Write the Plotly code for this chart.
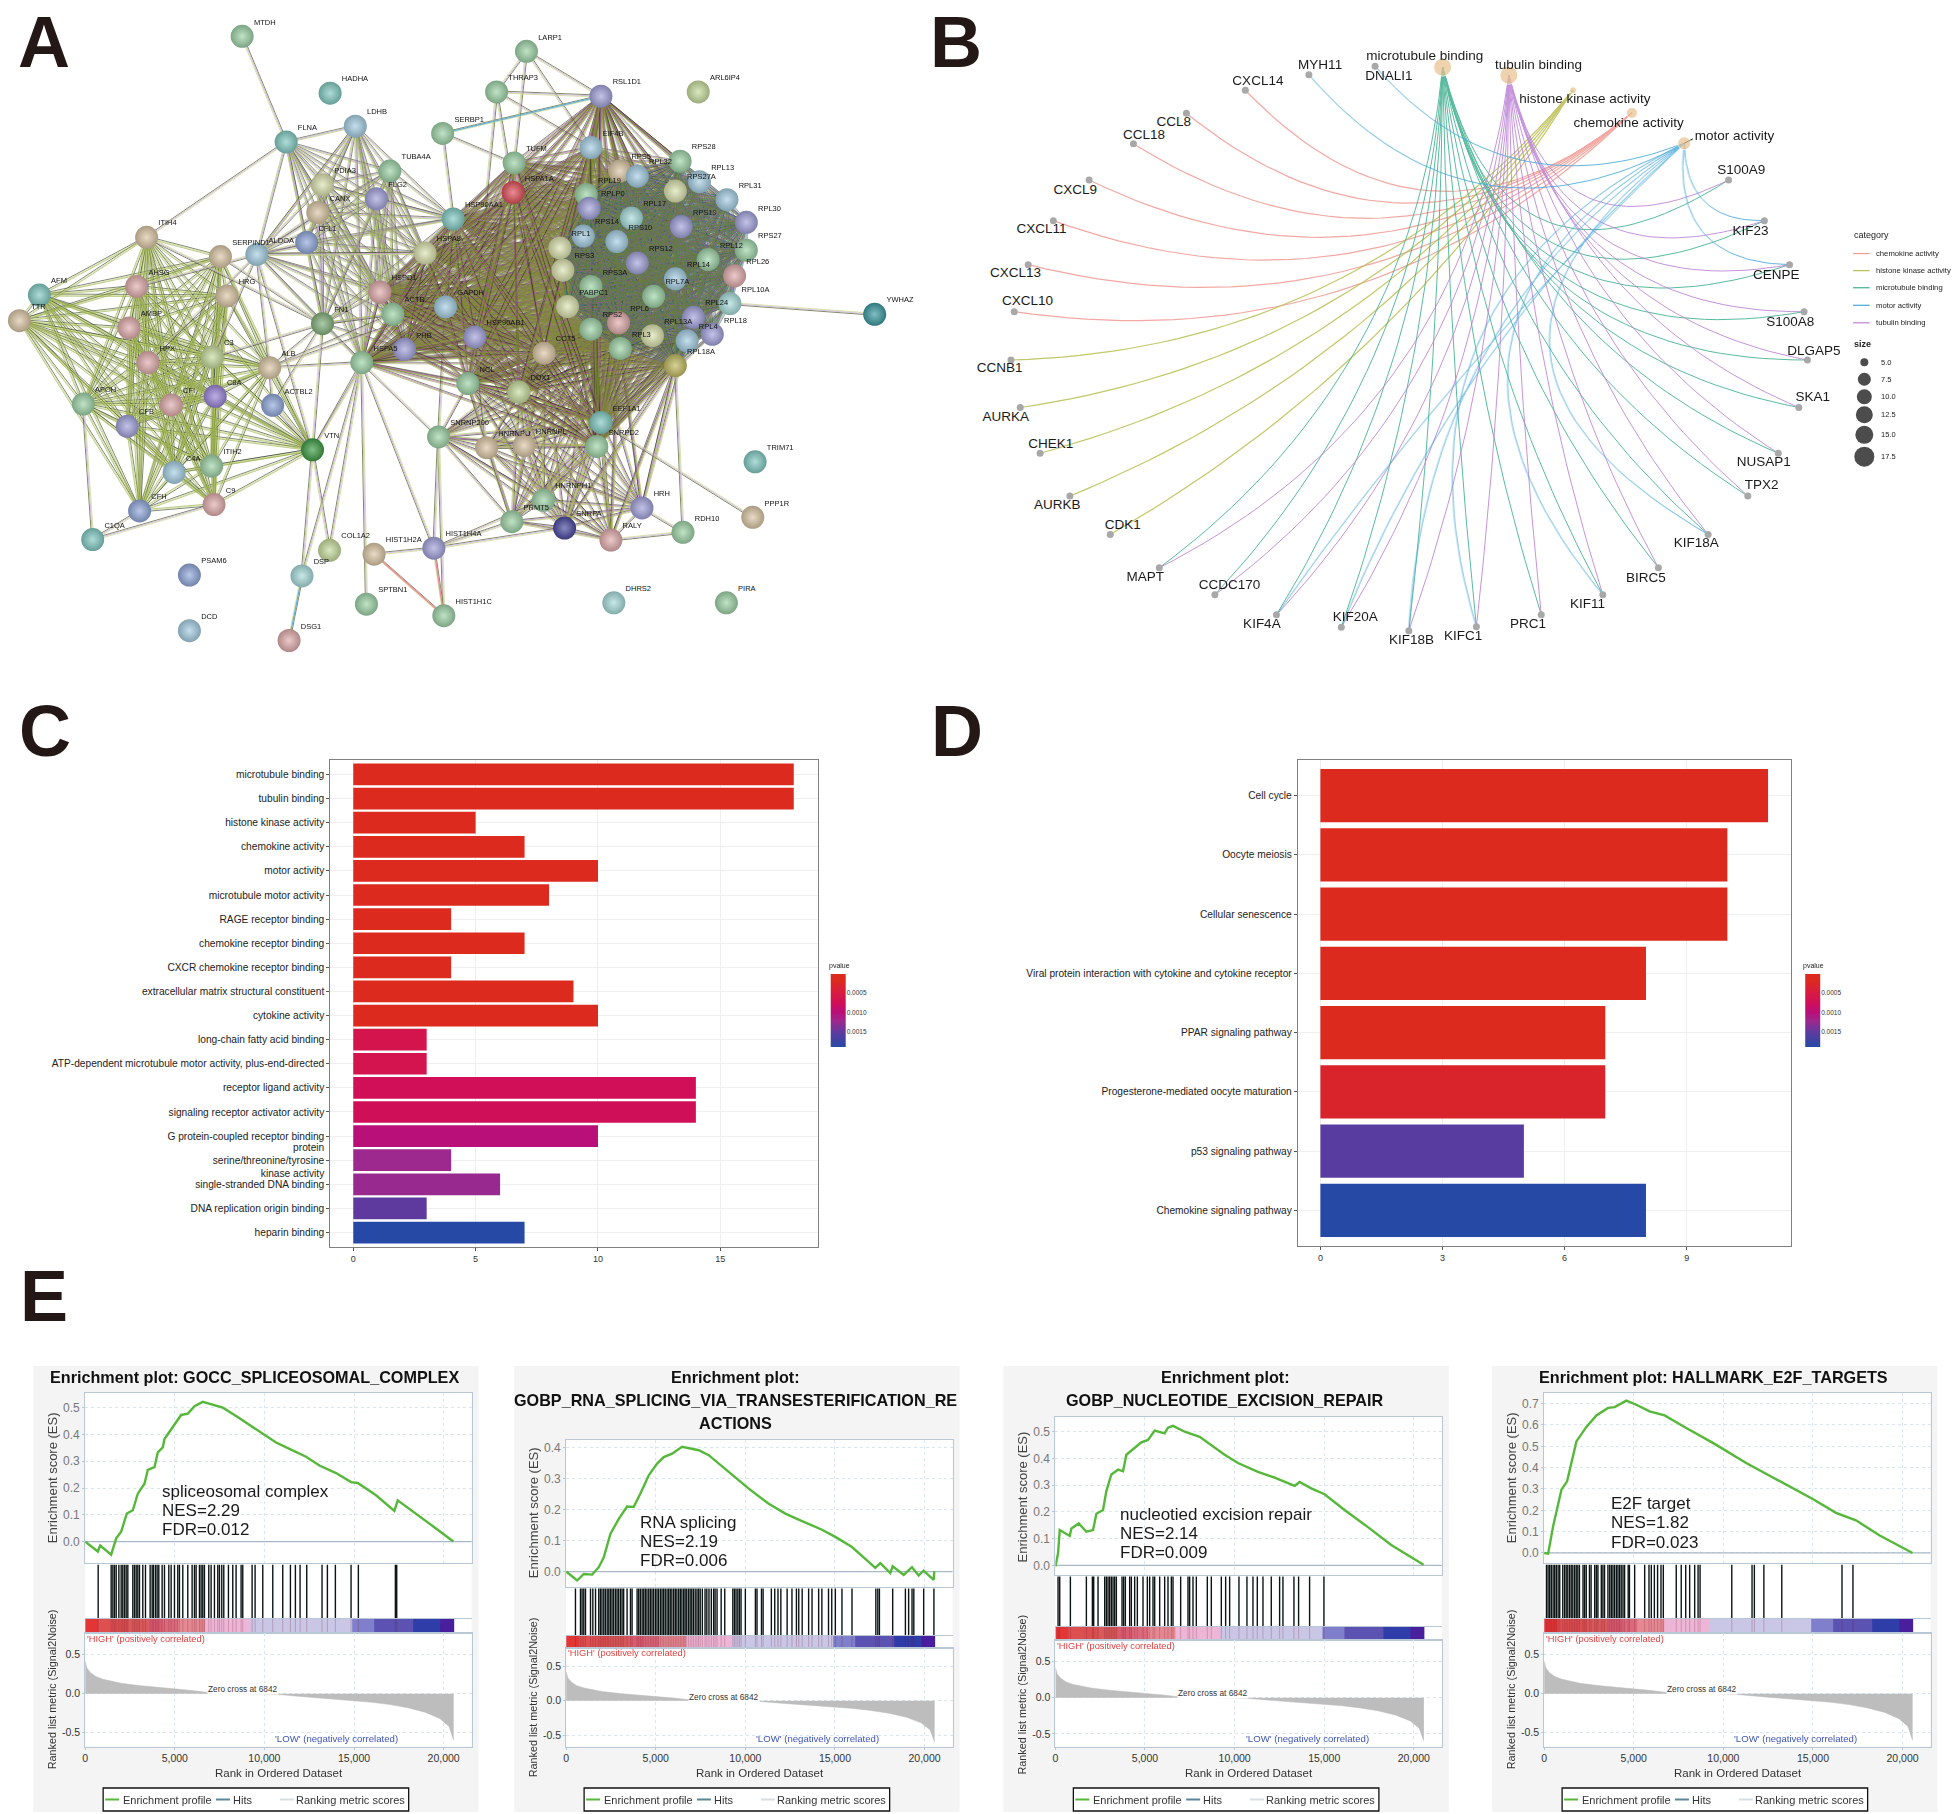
import itertools
import numpy as np
import plotly.graph_objects as go

W, H = 1959, 1814
FONT = "Liberation Sans"

# ---------------- Panel A data: STRING network ----------------
node_names = ["MTDH","HADHA","LARP1","THRAP3","RSL1D1","ARL6IP4","FLNA","LDHB","SERBP1","EIF4B","RPS28","TUBA4A","TUFM","RPS5","RPL32","RPL13","RPS27A","RPL31","HSPA1A","RPL19","RPLP0","PDIA3","FLG2","CANX","CFL1","HSP90AA1","RPS19","RPL30","RPL17","RPS10","RPS14","ALDOA","HSPA8","ITIH4","SERPIND1","RPL1","RPS12","RPS27","RPL12","RPL26","RPS3","RPS3A","RPL14","HSPD1","AHSG","HRG","AFM","TTR","ACTB","GAPDH","PABPC1","RPL7A","RPL10A","RPL24","FN1","RPS2","RPL6","AMBP","HSP90AB1","RPL13A","RPL18","RPL4","RPL3","PHB","HSPA5","CCT5","HPX","C3","ALB","RPL18A","NCL","DDX1","C8A","ACTBL2","APOH","CFI","CFB","EEF1A1","SNRPD2","SNRNP200","HNRNPU","HNRNPL","VTN","ITIH2","C4A","TRIM71","C9","CFH","HNRNPH1","PRMT5","HRH","SNRPA","RALY","RDH10","PPP1R","C1QA","COL1A2","HIST1H2A","HIST1H4A","DSP","PSAM6","SPTBN1","HIST1H1C","DHRS2","PIRA","DCD","DSG1","YWHAZ"]
node_x = [408,558,893,842,1020,1186,483,601,750,1003,1155,660,872,1052,1082,1188,1147,1235,870,995,1000,545,637,537,518,768,1157,1268,1072,1047,990,433,720,245,371,950,1082,1268,1203,1248,955,1003,1147,643,228,382,62,28,665,755,963,1110,1240,1178,545,1003,1050,215,805,1108,1210,1167,1053,685,612,923,247,357,455,1147,793,880,362,460,137,287,212,1020,1013,743,825,889,528,356,292,1283,360,233,922,868,1090,958,1037,1160,1279,153,557,633,735,510,318,620,752,1042,1234,318,488,1487]
node_y = [85,218,120,215,225,215,332,295,312,345,377,400,381,400,412,425,447,467,450,455,487,432,465,497,567,512,530,520,510,565,552,595,592,555,600,580,615,585,607,645,632,670,652,683,670,692,690,750,735,718,717,693,710,742,757,770,755,767,788,785,782,797,815,817,848,826,848,835,860,855,897,917,927,948,945,947,997,988,1044,1022,1047,1042,1052,1090,1105,1080,1180,1195,1170,1220,1188,1235,1263,1245,1210,1262,1287,1296,1282,1347,1345,1413,1440,1410,1410,1475,1498,735]
node_tone = ["green","teal","green","green","purple","lime","teal","lblue","green","lblue","green","green","green","tan","lblue","lblue","yellow","lblue","red","green","purple","yellow","purple","tan","blue","teal","purple","purple","lteal","lblue","lblue","lblue","yellow","tan","tan","yellow","purple","green","green","pink","yellow","green","lblue","pink","pink","tan","teal","tan","green","lblue","yellow","green","lteal","purple","dgreen2","green","pink","pink","purple","yellow","purple","lblue","green","purple","green","tan","pink","lime","tan","olive","green","lime","vio","blue","green","pink","purple","teal","green","green","tan","tan","dgreen","green","lblue","teal","pink","blue","green","green","purple","navy","pink","green","tan","teal","lime","tan","purple","lteal","blue","green","green","lteal","green","lblue","pink","deepteal"]
tones = {"green":"#9FD4A8","teal":"#84CBC4","lime":"#C9DD9F","purple":"#A3A3DD","lblue":"#A6CFE4","blue":"#92A9DC","lteal":"#A9DCDC","tan":"#DCC7A6","yellow":"#DDE4B2","red":"#E0505A","pink":"#E2AEAE","olive":"#C2BC62","dgreen":"#3F9C46","dgreen2":"#84B07C","vio":"#9A85D8","navy":"#4A4AA0","deepteal":"#3D9CA2"}

ribo = ["RPS28","RPS5","RPL32","RPL13","RPS27A","RPL31","RPL19","RPLP0","RPS19","RPL30","RPL17","RPS14","RPS10","RPL1","RPS27","RPL12","RPL26","RPS12","RPL14","RPS3","RPS3A","RPL7A","PABPC1","RPL10A","RPL6","RPS2","RPL24","RPL13A","RPL4","RPL3","RPL18","RPL18A"]
hubs = ["HSPA1A","HSP90AA1","HSPA8","HSPD1","ACTB","GAPDH","HSP90AB1","PHB","HSPA5","CCT5","NCL","DDX1","TUFM","EEF1A1","SNRPD2","EIF4B","RSL1D1"]
mid = ["FLNA","LDHB","PDIA3","FLG2","CANX","CFL1","ALDOA","TUBA4A","HSPA8","HSPD1","ACTB","GAPDH","FN1","HSPA5","PHB","HSP90AA1"]
plasma = ["AFM","TTR","ITIH4","AHSG","AMBP","HPX","APOH","C3","ALB","C8A","CFI","CFB","ITIH2","C4A","C9","CFH","VTN","HRG","SERPIND1"]
splice = ["NCL","DDX1","CCT5","EEF1A1","SNRPD2","SNRNP200","HNRNPU","HNRNPL","HNRNPH1","PRMT5","SNRPA","HRH","RALY"]
splice_links = ["RPL18A","RPL3","RPS2","RPL6","RPL4"]
cross = [("ALB","FN1"),("ALB","HSPA5"),("ALB","GAPDH"),("ALB","ACTB"),("ALB","ALDOA"),("FN1","VTN"),("FN1","C3"),("FN1","SERPIND1"),("FN1","ITIH4"),("VTN","HSPA5"),("VTN","COL1A2"),("VTN","ALDOA"),("VTN","ACTBL2"),("VTN","ACTB"),("DSP","VTN"),("DSP","HSPA5"),("DSP","DSG1"),("SPTBN1","HSPA5"),("ACTBL2","ALB"),("ACTBL2","FN1"),("C1QA","CFH"),("C1QA","C9"),("C1QA","APOH"),("MTDH","FLNA"),("ITIH4","FLNA"),("ALDOA","C3"),("ALDOA","HPX"),("ALDOA","AHSG"),("ALDOA","LDHB"),("ALDOA","HSPA8"),("LARP1","THRAP3"),("LARP1","TUFM"),("LARP1","EIF4B"),("LARP1","RSL1D1"),("THRAP3","HSPA1A"),("THRAP3","RSL1D1"),("THRAP3","EIF4B"),("THRAP3","NCL"),("SERBP1","RSL1D1"),("SERBP1","HSP90AA1"),("SERBP1","RPL19"),("YWHAZ","RPL10A"),("PPP1R","EEF1A1"),("RDH10","RPL18A"),("RDH10","HRH"),("RDH10","RALY"),("HRH","RPL18A"),("HIST1H2A","HIST1H4A"),("HIST1H2A","HIST1H1C"),("HIST1H4A","HIST1H1C"),("HIST1H4A","PRMT5"),("HIST1H4A","HNRNPH1"),("HIST1H4A","SNRNP200"),("HIST1H4A","SNRPA"),("HIST1H4A","HSPA5"),("HIST1H1C","SNRNP200"),("COL1A2","HSPA5"),("SNRNP200","HSPA5"),("SNRNP200","GAPDH"),("HNRNPU","HSP90AB1"),("HNRNPL","HSP90AB1"),("PRMT5","NCL")]
rsl_links = ["RPS28","RPL32","RPS5","RPL19","EIF4B","RPS27A"]

# ---------------- Panel B data: gene-concept network ----------------
gene_names = ["S100A9","KIF23","CENPE","S100A8","DLGAP5","SKA1","NUSAP1","TPX2","KIF18A","BIRC5","KIF11","PRC1","KIFC1","KIF18B","KIF20A","KIF4A","CCDC170","MAPT","CDK1","AURKB","CHEK1","AURKA","CCNB1","CXCL10","CXCL13","CXCL11","CXCL9","CCL18","CCL8","CXCL14","MYH11","DNALI1"]
gene_x = [1219,1273,1311,1333,1338,1325,1294,1248,1188,1113,1029,936,838,736,634,536,443,359,285,224,179,149,135,140,161,199,253,320,400,489,585,685]
gene_y = [421,516,619,729,842,953,1060,1160,1250,1328,1391,1438,1466,1475,1467,1438,1391,1328,1250,1160,1060,953,842,729,619,516,421,336,265,211,175,155]
gene_label_x = [1238,1252,1291,1312,1348,1346,1272,1269,1170,1094,1006,916,818,740,655,514,465,338,304,205,195,127,118,160,142,181,232,336,381,508,602,706]
gene_label_y = [400,541,645,754,822,931,1081,1136,1272,1354,1415,1461,1490,1499,1445,1461,1369,1350,1229,1182,1040,977,863,706,641,537,445,317,287,190,153,180]
cat_names = ["microtubule binding","tubulin binding","histone kinase activity","chemokine activity","motor activity"]
cat_x = [787,887,984,1073,1152]
cat_y = [157,176,211,264,335]
cat_label_x = [760,932,1002,1068,1228]
cat_label_y = [132,153,234,290,320]
cat_size = [18,18,7,11,13]
shared_genes = ["S100A9","KIF23","CENPE","S100A8","DLGAP5","SKA1","NUSAP1","TPX2","KIF18A","BIRC5","KIF11","PRC1","KIFC1","KIF18B","KIF20A","KIF4A","CCDC170","MAPT"]
chemokine_genes = ["CXCL10","CXCL13","CXCL11","CXCL9","CCL18","CCL8","CXCL14"]
histone_genes = ["CCNB1","AURKA","CHEK1","AURKB","CDK1"]
motor_genes = ["DNALI1","MYH11","KIF23","CENPE","KIF18A","KIF11","KIFC1","KIF18B","KIF20A","KIF4A"]
motor_bend = [0.35,0.40,0.50,0.55,0.75,0.59,0.42,0.25,0.12,0.05]
legend_cats = ["chemokine activity","histone kinase activity","microtubule binding","motor activity","tubulin binding"]
legend_cat_colors = ["#F29A93","#B9BE4E","#3DB08E","#45A7DA","#BC82D6"]
size_values = ["5.0","7.5","10.0","12.5","15.0","17.5"]
size_px = [8,13,15,17,18,20]

# ---------------- Panels C, D data ----------------
c_terms = ["microtubule binding","tubulin binding","histone kinase activity","chemokine activity","motor activity","microtubule motor activity","RAGE receptor binding","chemokine receptor binding","CXCR chemokine receptor binding","extracellular matrix structural constituent","cytokine activity","long-chain fatty acid binding","ATP-dependent microtubule motor activity, plus-end-directed","receptor ligand activity","signaling receptor activator activity","G protein-coupled receptor binding","protein<br>serine/threonine/tyrosine<br>kinase activity","single-stranded DNA binding","DNA replication origin binding","heparin binding"]
c_count = [18,18,5,7,10,8,4,7,4,9,10,3,3,14,14,10,4,6,3,7]
c_pval = [.00001,.00001,.00003,.00005,.00006,.00008,.0001,.00012,.00013,.00015,.00017,.00063,.00065,.00076,.00077,.00100,.00124,.00126,.00152,.0019]
d_terms = ["Cell cycle","Oocyte meiosis","Cellular senescence","Viral protein interaction with cytokine and cytokine receptor","PPAR signaling pathway","Progesterone-mediated oocyte maturation","p53 signaling pathway","Chemokine signaling pathway"]
d_count = [11,10,10,8,7,7,5,8]
d_pval = [.00001,.00002,.00003,.00005,.00008,.0003,.00156,.0019]
pval_scale = [[0,"#DC2A1F"],[.1,"#DC2A1F"],[.25,"#D81B40"],[.4,"#D10F58"],[.53,"#B80F7A"],[.65,"#9E288E"],[.8,"#5F3A9E"],[1,"#2549A5"]]

# ---------------- Panel E data: GSEA ----------------
es_rank = [
 [0,706,836,1450,1729,2008,2324,2658,2937,3309,3495,3867,4053,4331,4424,4796,5075,5354,5726,6098,6562,7678,8421,9537,10652,11396,12325,13069,13998,14835,15207,16229,17252,17438,18460,19575,20542],
 [0,613,985,1450,1822,2101,2473,2937,3402,3774,4145,4610,5075,5447,5912,6469,7399,7957,9072,10187,11303,12232,13161,14277,15020,15950,16693,17251,17530,18088,18218,18831,19296,19668,19947,20505,20542],
 [0,149,242,799,892,1301,1729,2101,2287,2658,2844,3123,3495,3774,3960,4424,4796,5168,5540,6098,6283,6562,7213,8049,9444,10187,11303,12232,12790,13347,13626,14277,15020,16136,17438,18739,20542],
 [0,223,501,966,1281,1801,2358,2915,3565,3936,4586,5143,5886,6722,7929,9415,11272,13129,14986,16286,17400,18700,20557],
]
es_score = [
 [0,-.037,-.015,-.049,.012,.037,.105,.117,.179,.216,.268,.278,.333,.352,.383,.42,.444,.473,.478,.506,.522,.5,.469,.42,.37,.346,.317,.284,.256,.222,.219,.173,.115,.154,.105,.049,0],
 [0,-.029,-.008,-.01,.014,.046,.122,.17,.21,.209,.252,.311,.349,.37,.381,.403,.392,.376,.322,.268,.219,.187,.163,.135,.112,.079,.041,.012,.027,-.005,.017,-.011,.014,-.013,.003,-.027,.001],
 [-.004,.045,.132,.11,.138,.157,.126,.132,.193,.207,.278,.34,.358,.352,.414,.438,.46,.469,.504,.494,.515,.522,.5,.481,.414,.383,.35,.328,.313,.297,.312,.288,.266,.207,.143,.076,.002],
 [0,-.003,.125,.297,.336,.523,.591,.645,.68,.684,.714,.695,.664,.645,.586,.516,.422,.339,.253,.188,.153,.083,0],
]
hit_rank = [
 [725,1450,1545,1636,1729,1880,2008,2100,2195,2287,2380,2658,2750,2845,2937,3030,3216,3365,3625,3737,3811,3922,4015,4108,4294,4424,4666,4796,4982,5168,5261,5447,5726,5967,6098,6190,6376,6469,6562,6655,6897,7027,7213,7399,7492,7622,7734,7994,8235,8421,8700,8793,9314,9481,9909,10467,11024,11452,11730,11990,12362,13217,13515,13961,14835,15243,17308,17383],
 [520,800,890,985,1080,1360,1490,1640,1820,1910,2000,2100,2190,2290,2380,2470,2560,2650,2750,2840,2930,3030,3120,3210,3400,3590,3680,3960,4050,4140,4240,4330,4420,4510,4610,4700,4790,4880,4980,5070,5160,5260,5350,5440,5530,5630,5720,5810,5900,6000,6090,6180,6280,6370,6460,6560,6640,6730,6830,6920,7010,7100,7200,7300,7390,7480,7600,7750,7850,7970,8100,8230,8310,8420,8650,8850,9300,9390,9480,9580,9670,9760,10000,10560,10650,10900,10990,11450,11640,11820,11980,12330,12600,12850,12980,13170,13530,13720,14090,14270,14640,14820,15020,15390,15950,17280,17390,17480,18220,18930,19110,19300,19400,19950,20520],
 [149,242,837,1729,2064,2138,2380,2751,2844,2937,3030,3123,3216,3309,3402,3718,3811,3904,4145,4238,4424,4573,4889,5131,5261,5447,5540,5819,6098,6283,6469,6562,6990,7399,7492,7678,7864,8477,8700,9258,9500,9723,10243,10689,11024,11266,11582,12046,12511,12697,13310,13570,14184,14984],
 [130,220,310,400,500,590,680,780,870,1040,1140,1230,1320,1420,1510,1600,1700,1790,1880,1970,2170,2260,2350,2530,2620,2820,2910,3000,3190,3280,3370,3560,3660,3750,3840,3930,4030,4120,4210,4300,4400,4490,4690,4760,5050,5610,5850,5980,6150,6330,6520,6650,7370,7650,7900,8120,8400,8590,8700,10470,11600,11730,12260,13260,16620,17230],
]
metric_rank = [0,100,300,600,1000,1500,2000,3000,4000,5000,6000,6842,10800,12000,14000,16000,17000,18000,19000,19800,20300,20560]
metric_value = [.42,.33,.27,.22,.185,.155,.135,.105,.085,.065,.04,.015,-.01,-.035,-.07,-.11,-.14,-.18,-.24,-.32,-.42,-.6]
strip_edges = [0,700,1500,2400,3500,4300,5200,6700,9200,14900,16150,18300,19800,20600]
strip_colors = ["#E23636","#DE5050","#D95050","#D85A5A","#D85C70","#DC6A7C","#E58A92","#EDB6D6","#CAC6E6","#7F7FCB","#5C52B2","#2F3DA8","#4A1F9E"]
titles = [["Enrichment plot: GOCC_SPLICEOSOMAL_COMPLEX"],
          ["Enrichment plot:","GOBP_RNA_SPLICING_VIA_TRANSESTERIFICATION_RE","ACTIONS"],
          ["Enrichment plot:","GOBP_NUCLEOTIDE_EXCISION_REPAIR"],
          ["Enrichment plot: HALLMARK_E2F_TARGETS"]]
notes = [["spliceosomal complex","NES=2.29","FDR=0.012"],["RNA splicing","NES=2.19","FDR=0.006"],
         ["nucleotied excision repair","NES=2.14","FDR=0.009"],["E2F target","NES=1.82","FDR=0.023"]]
es_ticks = [[0,.1,.2,.3,.4,.5],[0,.1,.2,.3,.4],[0,.1,.2,.3,.4,.5],[0,.1,.2,.3,.4,.5,.6,.7]]
es_range = [[-.08,.555],[-.05,.425],[-.036,.555],[-.047,.75]]
metric_range = [[-.678,.78],[-.663,.766],[-.674,.80],[-.678,.78]]
rank_ticks = [0,5000,10000,15000,20000]

# ---------------- Layout geometry (pixels) ----------------
frame_left = [82.3,564,1054,1543.5]
frame_w = 387
es_top = [1393,1440,1417,1393]
es_bot = [1563,1587,1575,1563]
strip_top = [1619,1636,1627,1619]
strip_bot = [1633,1648,1640,1633]
metric_bot = 1746.5
title_y = [[1377],[1377,1400,1423],[1377,1400],[1377]]
note_x = [158,637,1118,1609]
note_y = [[1491,1510,1529],[1522,1541,1560],[1514,1533,1552],[1503,1522,1542]]
high_y = [1639,1653,1646,1639]
zero_y = [1689,1697,1693,1689]
es_title_y = [1478,1513,1497,1478]
metric_title_y = [1689,1697,1694,1689]

fig = go.Figure()
layout_axes = {}
annotations = []
shapes = []
axis_no = [0]

def new_axes(x0, x1, y0, y1, xr, yr, xopts=None, yopts=None):
    axis_no[0] += 1
    n = axis_no[0]
    base = dict(showgrid=False, zeroline=False, showticklabels=False, ticks="", fixedrange=True)
    xa = dict(base, domain=[x0 / W, x1 / W], range=xr, anchor=f"y{n}")
    ya = dict(base, domain=[1 - y1 / H, 1 - y0 / H], range=yr, anchor=f"x{n}")
    xa.update(xopts or {})
    ya.update(yopts or {})
    layout_axes["xaxis" if n == 1 else f"xaxis{n}"] = xa
    layout_axes["yaxis" if n == 1 else f"yaxis{n}"] = ya
    return f"x{n}", f"y{n}"

def txt(px, py, text, size, color="#222", anchor="center", rot=0, bold=False, bg=None):
    annotations.append(dict(x=px / W, y=1 - py / H, xref="paper", yref="paper", text=f"<b>{text}</b>" if bold else text,
                            showarrow=False, xanchor=anchor, yanchor="middle", textangle=rot, bgcolor=bg, borderpad=0,
                            font=dict(family=FONT, size=size, color=color)))

def rect(x0, y0, x1, y1, fill=None, line=None, lw=0):
    shapes.append(dict(type="rect", xref="paper", yref="paper", x0=x0 / W, x1=x1 / W, y0=1 - y0 / H, y1=1 - y1 / H,
                       fillcolor=fill or "rgba(0,0,0,0)", line=dict(color=line or "rgba(0,0,0,0)", width=lw), layer="below"))

def hline(x0, x1, y, color, lw):
    shapes.append(dict(type="line", xref="paper", yref="paper", x0=x0 / W, x1=x1 / W, y0=1 - y / H, y1=1 - y / H,
                       line=dict(color=color, width=lw)))

for letter, lx, ly in [("A", 41, 42), ("B", 954, 42), ("C", 42, 731), ("D", 955, 731), ("E", 41, 1296)]:
    txt(lx, ly, letter, 72, "#231815", bold=True)

# ---------------- Panel A ----------------
ax, ay = new_axes(0, 920, 0, 670, [0, 1567], [1567, 0])
sxA, syA = 920 / 1567, 670 / 1567
pos = {n: (x, y) for n, x, y in zip(node_names, node_x, node_y)}

def add_edges(pairs, colors, width, opacity, gap=1.0):
    nc = len(colors)
    for i, c in enumerate(colors):
        xs, ys = [], []
        for a, b in pairs:
            (x0, y0), (x1, y1) = pos[a], pos[b]
            dx, dy = (x1 - x0) * sxA, (y1 - y0) * syA
            L = max(np.hypot(dx, dy), 1)
            off = (i - (nc - 1) / 2) * gap
            ox, oy = -dy / L * off / sxA, dx / L * off / syA
            xs += [x0 + ox, x1 + ox, None]
            ys += [y0 + oy, y1 + oy, None]
        fig.add_trace(go.Scatter(x=xs, y=ys, mode="lines", xaxis=ax, yaxis=ay, hoverinfo="skip", showlegend=False,
                                 opacity=opacity, line=dict(color=c, width=width)))

add_edges(list(itertools.combinations(plasma, 2)), ["#27331F", "#C9D97E", "#8FA83A"], .7, .85)
add_edges(list(itertools.combinations(mid, 2)), ["#2F3C18", "#B58AC8", "#9DBB4E"], .7, .8)
add_edges(list(itertools.combinations(splice, 2)) + [(a, b) for a in splice for b in splice_links], ["#20260F", "#A96CB8", "#A9BE4B"], .7, .85)
add_edges(cross, ["#4F5A2E", "#C6A6D6", "#C6D68A"], .8, .9)
add_edges([("RSL1D1", b) for b in rsl_links], ["#3C460D", "#B04AA8", "#8AA030"], .8, .9)
add_edges([(a, b) for a in hubs for b in ribo], ["#1E260C", "#A55AA8", "#7C9A20"], .55, .75, .8)
add_edges(list(itertools.combinations(hubs, 2)), ["#2A3010", "#A94FA0", "#7E9A26"], .7, .8)
add_edges(list(itertools.combinations(ribo, 2)), ["#1A2314", "#35A0BE", "#A848A0", "#5B8A20"], .5, .75, .7)
add_edges([("HIST1H2A", "HIST1H1C"), ("HIST1H4A", "HIST1H1C")], ["#F08A8A"], 1.4, .9)
add_edges([("SERBP1", "RSL1D1"), ("DSP", "DSG1")], ["#5BB5D5"], 1.2, .9)

def lighter(hexc, f=.6):
    r, g, b = [int(hexc[i:i + 2], 16) for i in (1, 3, 5)]
    return "#%02x%02x%02x" % tuple(int(v + (255 - v) * f) for v in (r, g, b))

def darker(hexc, f=.22):
    r, g, b = [int(hexc[i:i + 2], 16) for i in (1, 3, 5)]
    return "#%02x%02x%02x" % tuple(int(v * (1 - f)) for v in (r, g, b))

base_cols = [tones[t] for t in node_tone]
fig.add_trace(go.Scatter(x=node_x, y=node_y, mode="markers", xaxis=ax, yaxis=ay, hoverinfo="skip", showlegend=False,
                         marker=dict(size=23, color=[darker(c) for c in base_cols],
                                     gradient=dict(type="radial", color=[lighter(c, .35) for c in base_cols]),
                                     line=dict(width=0))))
fig.add_trace(go.Scatter(x=[x + 20 for x in node_x], y=[y - 32 for y in node_y], text=node_names, mode="text",
                         xaxis=ax, yaxis=ay, hoverinfo="skip", showlegend=False, textposition="middle right",
                         cliponaxis=False, textfont=dict(family=FONT, size=7.5, color="#111")))

# ---------------- Panel B ----------------
bx, by = new_axes(920, 1959, 0, 670, [0, 1567], [1567, 0])
sxB, syB = 1039 / 1567, 670 / 1567
gpos = {n: (x, y) for n, x, y in zip(gene_names, gene_x, gene_y)}
cpos = {n: (x, y) for n, x, y in zip(cat_names, cat_x, cat_y)}
t = np.linspace(0, 1, 40)

def arc(p0, p1, bend=None, shared=False):
    x0, y0, x1, y1 = p0[0] * sxB, p0[1] * syB, p1[0] * sxB, p1[1] * syB
    dx, dy = x1 - x0, y1 - y0
    L = np.hypot(dx, dy)
    if bend is None:
        r = abs(dx) / L
        if dx < 0:
            k = .45 * r if shared else 180 * r ** 2.5 / L
            nx, ny = dy, -dx
        else:
            k = max(.85 * r ** 3, .35 * r)
            nx, ny = -dy, dx
    else:
        k = bend
        nx, ny = (-dy, dx) if dy > 0 else (dy, -dx)
        if nx > 0:
            nx, ny = -nx, -ny
    cx, cy = (x0 + x1) / 2 + nx * k, (y0 + y1) / 2 + ny * k
    bxs = (1 - t) ** 2 * x0 + 2 * t * (1 - t) * cx + t ** 2 * x1
    bys = (1 - t) ** 2 * y0 + 2 * t * (1 - t) * cy + t ** 2 * y1
    return list(bxs / sxB) + [None], list(bys / syB) + [None]

def add_arcs(cat, genes, color, bends=None, width=1.0, opacity=.85, shared=False):
    xs, ys = [], []
    for i, g in enumerate(genes):
        a, b = arc(cpos[cat], gpos[g], None if bends is None else bends[i], shared)
        xs += a
        ys += b
    fig.add_trace(go.Scatter(x=xs, y=ys, mode="lines", xaxis=bx, yaxis=by, hoverinfo="skip", showlegend=False,
                             opacity=opacity, line=dict(color=color, width=width)))

add_arcs("chemokine activity", chemokine_genes, legend_cat_colors[0], width=1.2)
add_arcs("histone kinase activity", histone_genes, legend_cat_colors[1], width=1.2)
add_arcs("microtubule binding", shared_genes, legend_cat_colors[2], shared=True)
add_arcs("tubulin binding", shared_genes, legend_cat_colors[4], shared=True)
add_arcs("motor activity", motor_genes, legend_cat_colors[3], bends=motor_bend)
fig.add_trace(go.Scatter(x=[cat_x[4], cat_x[4] + 13], y=[cat_y[4], cat_y[4] - 10], mode="lines", xaxis=bx, yaxis=by,
                         hoverinfo="skip", showlegend=False, line=dict(color="#111", width=1)))
fig.add_trace(go.Scatter(x=gene_x, y=gene_y, mode="markers", xaxis=bx, yaxis=by, hoverinfo="skip", showlegend=False,
                         marker=dict(size=7, color="#A8A8A8")))
fig.add_trace(go.Scatter(x=cat_x, y=cat_y, mode="markers", xaxis=bx, yaxis=by, hoverinfo="skip", showlegend=False,
                         marker=dict(size=cat_size, color="#E8C08C")))
fig.add_trace(go.Scatter(x=gene_label_x + cat_label_x, y=gene_label_y + cat_label_y, text=gene_names + cat_names, mode="text",
                         xaxis=bx, yaxis=by, hoverinfo="skip", showlegend=False, cliponaxis=False,
                         textfont=dict(family=FONT, size=13.5, color="#1a1a1a")))
# B legend
leg_y = [593, 633, 673, 714, 755]
for c, col, ly in zip(legend_cats, legend_cat_colors, leg_y):
    fig.add_trace(go.Scatter(x=[1407, 1432], y=[ly, ly], mode="lines", xaxis=bx, yaxis=by, hoverinfo="skip", showlegend=False,
                             line=dict(color=col, width=1.2)))
    txt(920 + 1440 * sxB, ly * syB, c, 7.7, "#222", anchor="left")
txt(920 + 1407 * sxB, 550 * syB, "category", 9, "#222", anchor="left")
txt(920 + 1407 * sxB, 805 * syB, "size", 9, "#222", anchor="left", bold=True)
size_y = [847, 887, 928, 970, 1017, 1068]
fig.add_trace(go.Scatter(x=[1424] * 6, y=size_y, mode="markers", xaxis=bx, yaxis=by, hoverinfo="skip", showlegend=False,
                         marker=dict(size=size_px, color="#000000", line=dict(width=0))))
for v, sy in zip(size_values, size_y):
    txt(920 + 1448 * sxB, sy * syB, v, 7.5, "#222", anchor="left")

# ---------------- Panels C and D ----------------
def bar_panel(terms, counts, pvals, x0, x1, y0, y1, xr, xticks, fs, cb_x0, cb_x1, title_x):
    grid = "#EFEFEF"
    xa, ya = new_axes(x0, x1, y0, y1, xr, [-.6, len(terms) - .4],
                      dict(showgrid=True, gridcolor=grid, gridwidth=.7, tickvals=xticks, ticks="outside", ticklen=3, tickcolor="#555",
                           showticklabels=True, tickfont=dict(family=FONT, size=9, color="#333"), showline=True, mirror=True,
                           linecolor="#808080", linewidth=1.4),
                      dict(type="category", categoryorder="array", categoryarray=terms[::-1], showgrid=True, gridcolor=grid, gridwidth=.7,
                           ticks="outside", ticklen=3, tickcolor="#555", showticklabels=True,
                           tickfont=dict(family=FONT, size=fs, color="#222"), showline=True, mirror=True,
                           linecolor="#808080", linewidth=1.4))
    fig.add_trace(go.Bar(y=terms, x=counts, orientation="h", xaxis=xa, yaxis=ya, width=.9, hoverinfo="skip", showlegend=False,
                         marker=dict(color=pvals, colorscale=pval_scale, cmin=0, cmax=.0019, line=dict(width=0))))
    cx, cy = new_axes(cb_x0, cb_x1, 974, 1047, [0, 1], [.0019, 0],
                      None, dict(side="right", tickvals=[.0005, .001, .0015], ticktext=["0.0005", "0.0010", "0.0015"], showticklabels=True,
                                 ticks="", tickfont=dict(family=FONT, size=6.5, color="#333")))
    levels = np.linspace(0, .0019, 60)
    fig.add_trace(go.Heatmap(x=[0, 1], y=levels, z=[[v, v] for v in levels], colorscale=pval_scale, zmin=0, zmax=.0019,
                             showscale=False, hoverinfo="skip"))
    fig.data[-1].xaxis, fig.data[-1].yaxis = cx, cy
    txt(title_x, 966, "pvalue", 7, "#222", anchor="center", bold=False)

bar_panel(c_terms, c_count, c_pval, 328, 816, 760, 1247, [-.93, 18.98], [0, 5, 10, 15], 10.2, 829, 844, 838)
bar_panel(d_terms, d_count, d_pval, 1297, 1791, 760, 1246, [-.55, 11.57], [0, 3, 6, 9], 10.2, 1805, 1820, 1813)

# ---------------- Panel E ----------------
rank_range = [0, 21560]
dot = "#D9E6F2"
frame = "#B9C8D6"
for i in range(4):
    L = frame_left[i]
    R = L + frame_w
    rect(L - 52, 1366, L + 394, 1812, fill="#F4F4F4")
    rect(L, es_top[i], R, metric_bot, fill="#FFFFFF")
    # enrichment profile
    xa, ya = new_axes(L, R, es_top[i], es_bot[i], rank_range, es_range[i],
                      dict(showgrid=True, gridcolor=dot, griddash="dot", gridwidth=1, tickvals=rank_ticks, showline=True, mirror=True,
                           linecolor=frame, linewidth=1),
                      dict(showgrid=True, gridcolor=dot, griddash="dot", gridwidth=1, tickvals=es_ticks[i], tickformat=".1f", showticklabels=True,
                           ticks="outside", ticklen=2, tickcolor=frame, tickfont=dict(family=FONT, size=12, color="#777"),
                           showline=True, mirror=True, linecolor=frame, linewidth=1))
    fig.add_trace(go.Scatter(x=[rank_range[0], rank_range[1]], y=[0, 0], mode="lines", xaxis=xa, yaxis=ya, hoverinfo="skip",
                             showlegend=False, line=dict(color="#A9B8C6", width=1.2)))
    fig.add_trace(go.Scatter(x=es_rank[i], y=es_score[i], mode="lines", xaxis=xa, yaxis=ya, hoverinfo="skip",
                             showlegend=False, line=dict(color="#56B83A", width=2.4)))
    # hits
    xa2, ya2 = new_axes(L, R, es_bot[i], strip_top[i], rank_range, [0, 1], None, None)
    hx, hy = [], []
    for r in hit_rank[i]:
        hx += [r, r, None]
        hy += [0, .97, None]
    fig.add_trace(go.Scatter(x=hx, y=hy, mode="lines", xaxis=xa2, yaxis=ya2, hoverinfo="skip", showlegend=False,
                             line=dict(color="#0B1413", width=1.4)))
    # colour strip
    xa3, ya3 = new_axes(L, R, strip_top[i], strip_bot[i], rank_range, [0, 1],
                        dict(showline=True, mirror=True, linecolor=frame, linewidth=1), None)
    n = len(strip_colors)
    step_scale = []
    for j, c in enumerate(strip_colors):
        step_scale += [[j / n, c], [(j + 1) / n, c]]
    fig.add_trace(go.Heatmap(x=strip_edges, y=[0, 1], z=[[j + .5 for j in range(n)]], colorscale=step_scale, zmin=0, zmax=n,
                             showscale=False, hoverinfo="skip", xaxis=xa3, yaxis=ya3))
    sx, sy = [], []
    for r in hit_rank[i]:
        sx += [r, r, None]
        sy += [0, 1, None]
    fig.add_trace(go.Scatter(x=sx, y=sy, mode="lines", xaxis=xa3, yaxis=ya3, hoverinfo="skip", showlegend=False,
                             opacity=.22, line=dict(color="#6A0A20", width=1)))
    # ranking metric
    xa4, ya4 = new_axes(L, R, strip_bot[i], metric_bot, rank_range, metric_range[i],
                        dict(showgrid=True, gridcolor=dot, griddash="dot", gridwidth=1, tickvals=rank_ticks, ticktext=["0", "5,000", "10,000", "15,000", "20,000"],
                             showticklabels=True, ticks="outside", ticklen=2, tickcolor=frame,
                             tickfont=dict(family=FONT, size=10.5, color="#333"), showline=True, linecolor=frame, linewidth=1, mirror=True),
                        dict(showgrid=True, gridcolor=dot, griddash="dot", gridwidth=1, tickvals=[-.5, 0, .5], ticktext=["-0.5", "0.0", "0.5"],
                             showticklabels=True, ticks="outside", ticklen=2, tickcolor=frame,
                             tickfont=dict(family=FONT, size=10.5, color="#333"), showline=True, linecolor=frame, linewidth=1, mirror=True))
    fig.add_trace(go.Scatter(x=metric_rank, y=metric_value, mode="lines", fill="tozeroy", fillcolor="#BDBDBD", xaxis=xa4, yaxis=ya4,
                             hoverinfo="skip", showlegend=False, line=dict(color="#BDBDBD", width=.5)))
    # texts
    for line, ty in zip(titles[i], title_y[i]):
        txt(L + 170, ty, line, 16.2, "#111", bold=True)
    for line, ty in zip(notes[i], note_y[i]):
        txt(note_x[i], ty, line, 17, "#1a1a1a", anchor="left")
    txt(L - 33, es_title_y[i], "Enrichment score (ES)", 13, "#444", rot=-90)
    txt(L - 33, metric_title_y[i], "Ranked list metric (Signal2Noise)", 10.8, "#333", rot=-90)
    txt(L + 194, 1773, "Rank in Ordered Dataset", 11.5, "#333")
    txt(L + 1, high_y[i], "'HIGH' (positively correlated)", 9.3, "#E04040", anchor="left")
    txt(L + 252, 1738, "'LOW' (negatively correlated)", 9.6, "#3F55B5")
    txt(L + 158, zero_y[i], "Zero cross at 6842", 8.3, "#333", bg="#FFFFFF")
    # legend box
    bx0 = L + 18
    rect(bx0, 1788, bx0 + 306, 1811, fill="#FFFFFF", line="#111", lw=1.3)
    hline(bx0 + 2, bx0 + 16, 1799.5, "#56B83A", 2)
    txt(bx0 + 19, 1799.5, "Enrichment profile", 11, "#333", anchor="left")
    hline(bx0 + 113, bx0 + 127, 1799.5, "#5B8699", 2)
    txt(bx0 + 129, 1799.5, "Hits", 11, "#333", anchor="left")
    hline(bx0 + 177, bx0 + 191, 1799.5, "#D5DFE6", 2)
    txt(bx0 + 192, 1799.5, "Ranking metric scores", 11, "#333", anchor="left")

fig.update_layout(width=W, height=H, margin=dict(l=0, r=0, t=0, b=0), autosize=False, paper_bgcolor="#FFFFFF",
                  plot_bgcolor="rgba(0,0,0,0)", showlegend=False, annotations=annotations, shapes=shapes,
                  font=dict(family=FONT), **layout_axes)
fig.write_html("out.html", config=dict(displayModeBar=False),
               post_script="document.body.style.margin='0';document.body.style.overflow='hidden';")
